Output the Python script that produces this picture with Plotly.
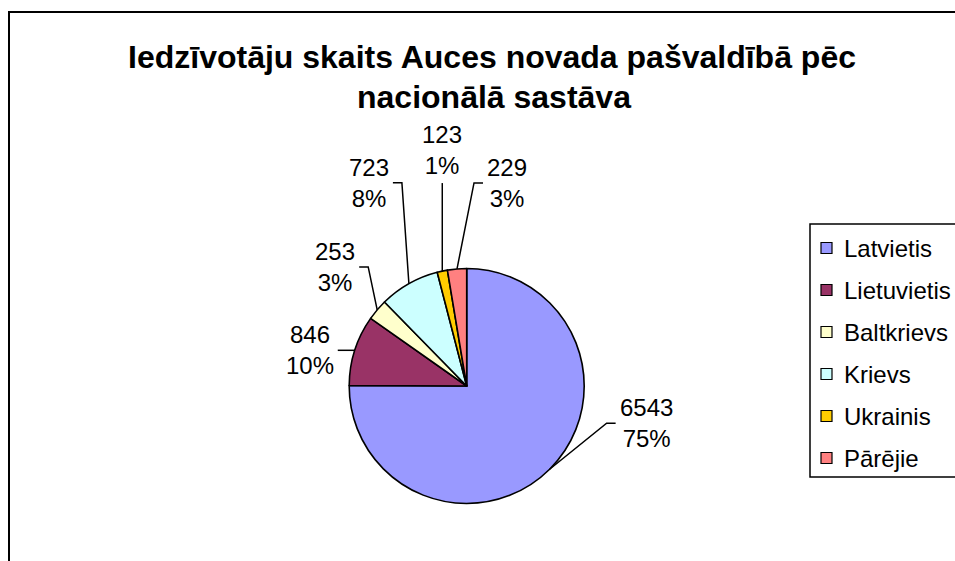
import math
import plotly.graph_objects as go

# ---------------- data ----------------
categories = ["Latvietis", "Lietuvietis", "Baltkrievs", "Krievs", "Ukrainis", "Pārējie"]
values = [6543, 846, 253, 723, 123, 229]
title_lines = ["Iedzīvotāju skaits Auces novada pašvaldībā pēc", "nacionālā sastāva"]

# ---------------- style / layout ----------------
colors = ["#9999FF", "#993366", "#FFFFCC", "#CCFFFF", "#FFCC00", "#FF8080"]
PAGE_W, PAGE_H = 955, 561
OFF = 0                                   # body margin is removed below
W, H = PAGE_W - OFF, PAGE_H - OFF
FONT = "Liberation Sans, Arial, sans-serif"
cx, cy, rad = 466.7, 386.0, 117.5          # pie centre / radius in page pixels
# leader elbow offsets from the slice edge point (pixels) and label side
leader = [(57, -46, "right"), (-8, 0, "left"), (-9, -43, "left"),
          (-7, -101, "left"), (0, -88, "top"), (17, -86, "right")]
TICK = 9


def px(x):
    return (x - OFF) / W


def py(y):
    return 1 - (y - OFF) / H


fig = go.Figure()
fig.add_trace(go.Pie(
    labels=categories, values=values, sort=False, direction="clockwise",
    rotation=0, textinfo="none", hoverinfo="label+value+percent",
    marker=dict(colors=colors, line=dict(color="black", width=1.6)),
    showlegend=False,
    domain=dict(x=[px(cx - rad), px(cx + rad)], y=[py(cy + rad), py(cy - rad)]),
))

shapes = []
annotations = []

# chart-area border (extends past the visible window)
shapes.append(dict(type="rect", xref="paper", yref="paper",
                   x0=px(9), x1=px(PAGE_W + 40), y0=py(12), y1=py(PAGE_H + 40),
                   line=dict(color="black", width=2), fillcolor="rgba(0,0,0,0)"))

# title
annotations.append(dict(text="<b>%s</b>" % title_lines[0], x=px(492), y=py(57),
                        xref="paper", yref="paper", showarrow=False,
                        xanchor="center", yanchor="middle",
                        font=dict(family=FONT, size=32, color="black")))
annotations.append(dict(text="<b>%s</b>" % title_lines[1], x=px(494), y=py(97),
                        xref="paper", yref="paper", showarrow=False,
                        xanchor="center", yanchor="middle",
                        font=dict(family=FONT, size=32, color="black")))

# data labels with leader lines
total = sum(values)
cum = 0.0
for v, (ox, oy, side) in zip(values, leader):
    mid = (cum + v / 2) / total
    cum += v
    th = 2 * math.pi * mid
    p_x = cx + rad * math.sin(th)
    p_y = cy - rad * math.cos(th)
    e_x, e_y = p_x + ox, p_y + oy
    pct = round(v / total * 100)
    txt = "%d<br>%d%%" % (v, pct)
    if side == "top":
        path = "M %f %f L %f %f" % (px(p_x), py(p_y), px(e_x), py(e_y))
        annotations.append(dict(text=txt, x=px(e_x), y=py(e_y - 2), xref="paper", yref="paper",
                                showarrow=False, xanchor="center", yanchor="bottom",
                                align="center", font=dict(family=FONT, size=24, color="black")))
    else:
        sgn = 1 if side == "right" else -1
        t_x = e_x + sgn * TICK
        path = "M %f %f L %f %f L %f %f" % (px(p_x), py(p_y), px(e_x), py(e_y), px(t_x), py(e_y))
        annotations.append(dict(text=txt, x=px(t_x + sgn * 2), y=py(e_y), xref="paper", yref="paper",
                                showarrow=False, xanchor="left" if sgn > 0 else "right",
                                yanchor="middle", align="center",
                                font=dict(family=FONT, size=24, color="black")))
    shapes.append(dict(type="path", xref="paper", yref="paper", path=path,
                       line=dict(color="black", width=1.5)))

# legend (manual, Excel style)
LX0, LY0, LY1 = 810, 224, 477
shapes.append(dict(type="rect", xref="paper", yref="paper",
                   x0=px(LX0), x1=px(PAGE_W + 20), y0=py(LY0), y1=py(LY1),
                   line=dict(color="black", width=1.5), fillcolor="white"))
for i, (name, col) in enumerate(zip(categories, colors)):
    yc = 248 + 42 * i
    shapes.append(dict(type="rect", xref="paper", yref="paper",
                       x0=px(821), x1=px(832), y0=py(yc + 5.5), y1=py(yc - 5.5),
                       line=dict(color="black", width=1.2), fillcolor=col))
    annotations.append(dict(text=name, x=px(842), y=py(yc), xref="paper", yref="paper",
                            showarrow=False, xanchor="left", yanchor="middle",
                            font=dict(family=FONT, size=24, color="black")))

fig.update_layout(
    width=W, height=H, margin=dict(l=0, r=0, t=0, b=0),
    paper_bgcolor="white", plot_bgcolor="white",
    shapes=shapes, annotations=annotations,
)

# place the figure flush with the window corner and hide scrollbars
fig.write_html(
    "out.html",
    config={"displayModeBar": False},
    post_script="document.body.style.margin='0';"
                "document.documentElement.style.overflow='hidden';",
)
